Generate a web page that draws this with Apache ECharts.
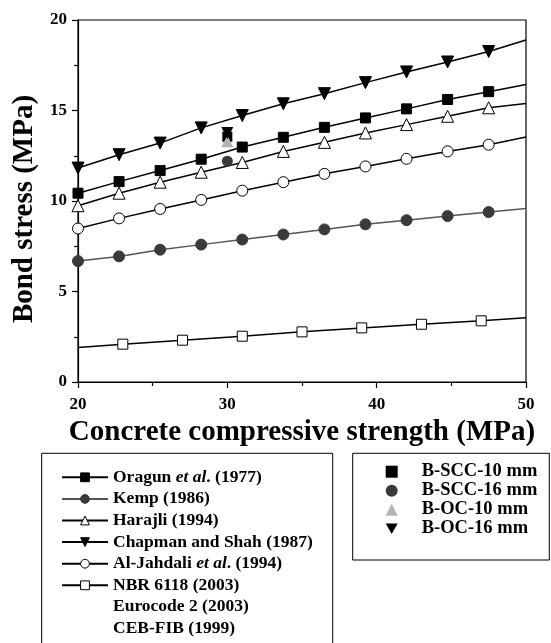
<!DOCTYPE html>
<html>
<head>
<meta charset="utf-8">
<script src="https://cdn.jsdelivr.net/npm/echarts@6/dist/echarts.min.js"></script>
<style>
    html, body { margin: 0; padding: 0; background: #fff; }
    #chart { width: 551px; height: 643px; }
</style>
</head>
<body>
<div id="chart"></div>
<script>
    // compressive strength where the model curves carry markers (MPa)
    var strength = [20, 22.75, 25.5, 28.25, 31, 33.75, 36.5, 39.25, 42, 44.75, 47.5, 50];
    var oragun = [10.43, 11.07, 11.68, 12.31, 12.98, 13.52, 14.07, 14.59, 15.09, 15.61, 16.04, 16.44];
    var kemp = [6.68, 6.94, 7.31, 7.59, 7.87, 8.15, 8.43, 8.71, 8.94, 9.17, 9.39, 9.59];
    var harajli = [9.74, 10.43, 11.04, 11.59, 12.13, 12.74, 13.24, 13.76, 14.22, 14.68, 15.15, 15.39];
    var chapman = [11.82, 12.56, 13.2, 14.04, 14.72, 15.37, 15.93, 16.54, 17.13, 17.68, 18.26, 18.9];
    var alJahdali = [8.48, 9.04, 9.56, 10.06, 10.57, 11.04, 11.5, 11.91, 12.33, 12.74, 13.11, 13.54];
    var nbrStrength = [20, 23, 27, 31, 35, 39, 43, 47, 50];
    var nbr = [1.9, 2.09, 2.31, 2.53, 2.77, 2.99, 3.19, 3.38, 3.55];

    // test results
    var testStrength = [30];
    var bScc10 = [13.55];
    var bScc16 = [12.2];
    var bOc10 = [13.3];
    var bOc16 = [13.76];

    var modelNames = ['Oragun et al. (1977)', 'Kemp (1986)', 'Harajli (1994)', 'Chapman and Shah (1987)',
        'Al-Jahdali et al. (1994)', 'NBR 6118 (2003)', 'Eurocode 2 (2003)', 'CEB-FIB (1999)'];
    var testNames = ['B-SCC-10 mm', 'B-SCC-16 mm', 'B-OC-10 mm', 'B-OC-16 mm'];

    var font = '"Liberation Serif", "Times New Roman", serif';

    // pair x/y, hiding the markers that sit on the frame ends
    function pairs(xs, ys, hideFirst) {
        return xs.map(function (x, i) {
            var item = { value: [x, ys[i]] };
            if (i === xs.length - 1 || (hideFirst && i === 0)) item.symbol = 'none';
            return item;
        });
    }

    function model(name, xs, ys, symbol, size, fill, stroke, lineColor, rotate, hideFirst) {
        return {
            name: name,
            type: 'line',
            data: pairs(xs, ys, hideFirst),
            symbol: symbol,
            symbolSize: size,
            symbolRotate: rotate || 0,
            showAllSymbol: true,
            itemStyle: { color: fill, borderColor: stroke, borderWidth: 1, opacity: 1 },
            lineStyle: { color: lineColor, width: 1.5 },
            emphasis: { disabled: true },
            z: 2
        };
    }

    function test(name, ys, symbol, size, color, rotate) {
        return {
            name: name,
            type: 'scatter',
            data: testStrength.map(function (x, i) { return [x, ys[i]]; }),
            symbol: symbol,
            symbolSize: size,
            symbolRotate: rotate || 0,
            itemStyle: { color: color, borderColor: color, borderWidth: 0, opacity: 1 },
            emphasis: { disabled: true },
            z: 3
        };
    }

    var series = [
        model(modelNames[0], strength, oragun, 'rect', 10, '#000', '#000', '#000'),
        model(modelNames[1], strength, kemp, 'circle', 11, '#3a3a3a', '#3a3a3a', '#555'),
        model(modelNames[2], strength, harajli, 'triangle', 12, '#fff', '#000', '#000'),
        model(modelNames[3], strength, chapman, 'triangle', 12, '#000', '#000', '#000', 180),
        model(modelNames[4], strength, alJahdali, 'circle', 11, '#fff', '#000', '#000'),
        model(modelNames[5], nbrStrength, nbr, 'rect', 10, '#fff', '#000', '#000', 0, true),
        model(modelNames[6], [], [], 'none', 0, 'rgba(0,0,0,0)', 'rgba(0,0,0,0)', 'rgba(0,0,0,0)'),
        model(modelNames[7], [], [], 'none', 0, 'rgba(0,0,0,0)', 'rgba(0,0,0,0)', 'rgba(0,0,0,0)'),
        test(testNames[0], bScc10, 'rect', 10, '#000'),
        test(testNames[1], bScc16, 'circle', 11, '#3a3a3a'),
        test(testNames[2], bOc10, 'triangle', 12, '#b4b4b4'),
        test(testNames[3], bOc16, 'triangle', 12, '#000', 180)
    ];

    var chart = echarts.init(document.getElementById('chart'));
    chart.setOption({
        animation: false,
        backgroundColor: '#fff',
        grid: {
            left: 78, right: 25, top: 20, bottom: 261,
            show: true, borderColor: '#000', borderWidth: 1.2,
            containLabel: false
        },
        xAxis: {
            type: 'value', min: 20, max: 50, interval: 10,
            axisLine: { show: true, lineStyle: { color: '#000', width: 1.2 } },
            axisTick: { show: true, length: 6, lineStyle: { color: '#000', width: 1.2 } },
            minorTick: { show: true, splitNumber: 2, length: 4, lineStyle: { color: '#000', width: 1.2 } },
            splitLine: { show: false },
            axisLabel: { color: '#000', fontFamily: font, fontWeight: 'bold', fontSize: 17, margin: 14 },
            name: 'Concrete compressive strength (MPa)',
            nameLocation: 'middle',
            nameGap: 32,
            nameTextStyle: { color: '#000', fontFamily: font, fontWeight: 'bold', fontSize: 29 }
        },
        yAxis: {
            type: 'value', min: 0, max: 20, interval: 5,
            axisLine: { show: true, lineStyle: { color: '#000', width: 1.2 } },
            axisTick: { show: true, length: 6, lineStyle: { color: '#000', width: 1.2 } },
            minorTick: { show: true, splitNumber: 2, length: 4, lineStyle: { color: '#000', width: 1.2 } },
            splitLine: { show: false },
            axisLabel: { color: '#000', fontFamily: font, fontWeight: 'bold', fontSize: 17, margin: 11 },
            name: 'Bond stress (MPa)',
            nameLocation: 'middle',
            nameGap: 38,
            nameTextStyle: { color: '#000', fontFamily: font, fontWeight: 'bold', fontSize: 29, padding: [0, 16, 0, 0] }
        },
        legend: [
            {
                data: modelNames,
                orient: 'vertical',
                left: 61, top: 468.3,
                padding: 0,
                itemWidth: 46, itemHeight: 11, itemGap: 3.6,
                selectedMode: false,
                itemStyle: { borderWidth: 1 },
                formatter: function (name) { return name.replace('et al', '{i|et al}'); },
                textStyle: {
                    color: '#000', fontFamily: font, fontWeight: 'bold', fontSize: 17.5,
                    rich: { i: { color: '#000', fontFamily: font, fontWeight: 'bold', fontStyle: 'italic', fontSize: 17.5 } }
                }
            },
            {
                data: [
                    { name: testNames[0] },
                    { name: testNames[1] },
                    { name: testNames[2] },
                    { name: testNames[3], icon: 'path://M0,0L12,0L6,10.4Z' }
                ],
                orient: 'vertical',
                left: 385.7, top: 462.2,
                padding: 0,
                itemWidth: 12, itemHeight: 12, itemGap: 0,
                selectedMode: false,
                textStyle: { color: '#000', fontFamily: font, fontWeight: 'bold', fontSize: 18.5, padding: [0, 0, 0, 19] }
            }
        ],
        graphic: [
            { type: 'rect', shape: { x: 41.7, y: 453.3, width: 291, height: 220 }, style: { fill: 'none', stroke: '#000', lineWidth: 1 } },
            { type: 'rect', shape: { x: 352.7, y: 453.3, width: 196.6, height: 106.7 }, style: { fill: 'none', stroke: '#000', lineWidth: 1 } }
        ],
        series: series
    });
</script>
</body>
</html>
